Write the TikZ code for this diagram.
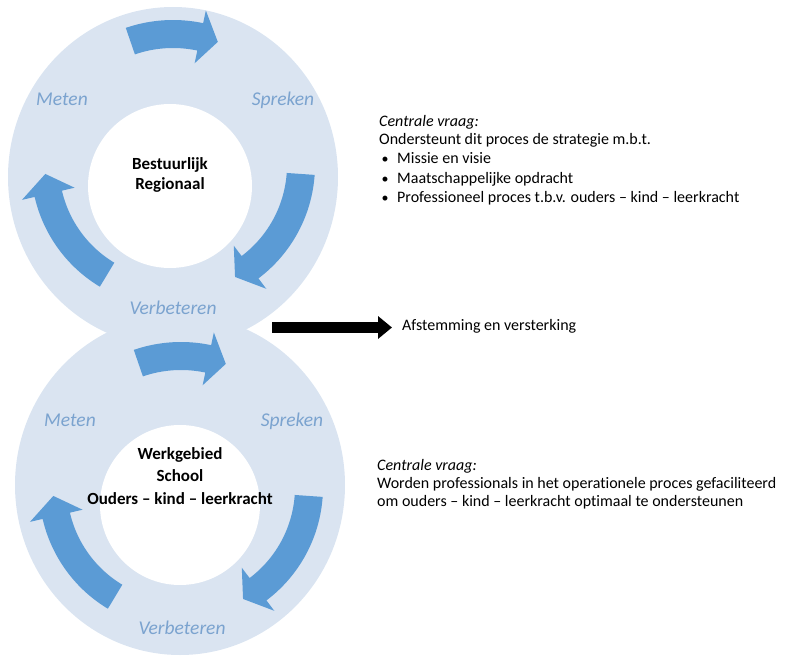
\documentclass[tikz,border=0pt]{standalone}
\usepackage{fontspec}
\setmainfont{Carlito}[Ligatures={NoCommon,NoRare}]
\usetikzlibrary{arrows.meta}
\definecolor{ringblue}{HTML}{DAE4F1}
\definecolor{arrowblue}{HTML}{5B9BD5}
\definecolor{labelblue}{HTML}{7BA3CF}
% cx cy R tail base tip shaftwidth headwidth
\newcommand\cycarrow[8]{%
\fill[arrowblue] plot[domain=#4:#5,samples=40] ({#1+(#3+#7/2)*cos(\x)},{#2+(#3+#7/2)*sin(\x)})
 -- ({#1+(#3+#8/2)*cos(#5)},{#2+(#3+#8/2)*sin(#5)})
 -- ({#1+#3*cos(#6)},{#2+#3*sin(#6)})
 -- ({#1+(#3-#8/2)*cos(#5)},{#2+(#3-#8/2)*sin(#5)})
 -- plot[domain=#5:#4,samples=40] ({#1+(#3-#7/2)*cos(\x)},{#2+(#3-#7/2)*sin(\x)})
 -- cycle;}
\tikzset{
 lbl/.style={font=\itshape\fontsize{19.5}{22}\selectfont, text=labelblue, anchor=base, inner sep=0},
 ctr/.style={font=\bfseries\fontsize{17}{21}\selectfont, anchor=base, inner sep=0},
 body/.style={font=\fontsize{16}{18}\selectfont, anchor=base west, inner sep=0},
 bul/.style={font=\fontsize{14}{18}\selectfont, anchor=base, inner sep=0},
}
\begin{document}
\begin{tikzpicture}[x=1pt,y=-1pt]
\useasboundingbox (0,0) rectangle (788,661);
% rings
\fill[ringblue] (173,177) ellipse [x radius=165, y radius=170];
\fill[ringblue] (180,485) ellipse [x radius=165, y radius=170];
\fill[white] (170,186) circle [radius=82];
\fill[white] (180,505) circle [radius=80];
% top ring arrows
\cycarrow{173}{165}{131}{-109}{-78}{-70}{28}{54}
\cycarrow{173}{165}{128}{4}{53}{61}{28}{54}
\cycarrow{173}{165}{128}{121}{167}{176}{28}{54}
% bottom ring arrows
\cycarrow{181}{487}{131}{-109}{-78}{-70}{28}{54}
\cycarrow{181}{487}{128}{4}{53}{61}{28}{54}
\cycarrow{181}{487}{128}{121}{167}{176}{28}{54}
% labels
\node[lbl] (m1) at (62,106) {Meten};
\node[lbl] (s1) at (283,106) {Spreken};
\node[lbl] (v1) at (173,314) {Verbeteren};
\node[lbl] (m2) at (70,426) {Meten};
\node[lbl] (s2) at (292,426) {Spreken};
\node[lbl] (v2) at (182,634) {Verbeteren};
% centre texts
\node[ctr] (c1a) at (170,169) {Bestuurlijk};
\node[ctr] (c1b) at (170,189) {Regionaal};
\node[ctr] (c2a) at (180,459) {Werkgebied};
\node[ctr] (c2b) at (180,481) {School};
\node[ctr] (c2c) at (180,504) {Ouders – kind – leerkracht};
% right texts top
\node[body] (t1) at (379,127) {\textit{Centrale vraag:}};
\node[body] (t2) at (379,145) {Ondersteunt dit proces de strategie m.b.t.};
\node[bul] (b1) at (385,164) {•};
\node[body] (t3) at (397,164) {Missie en visie};
\node[bul] (b2) at (385,183) {•};
\node[body] (t4) at (397,183) {Maatschappelijke opdracht};
\node[bul] (b3) at (385,202) {•};
\node[body] (t5) at (397,202) {Professioneel proces t.b.v. ouders – kind – leerkracht};
% middle arrow
\coordinate (arrS) at (272,327.5);
\node[body] (afst) at (402,330) {Afstemming en versterking};
\draw[line width=11pt, -{Triangle[length=14pt,width=22pt]}, shorten >=10pt] (arrS) -- (arrS -| afst.west);
% right texts bottom
\node[body] (u1) at (377,470) {\textit{Centrale vraag:}};
\node[body] (u2) at (377,488) {Worden professionals in het operationele proces gefaciliteerd};
\node[body] (u3) at (377,506) {om ouders – kind – leerkracht optimaal te ondersteunen};
\end{tikzpicture}
\end{document}
